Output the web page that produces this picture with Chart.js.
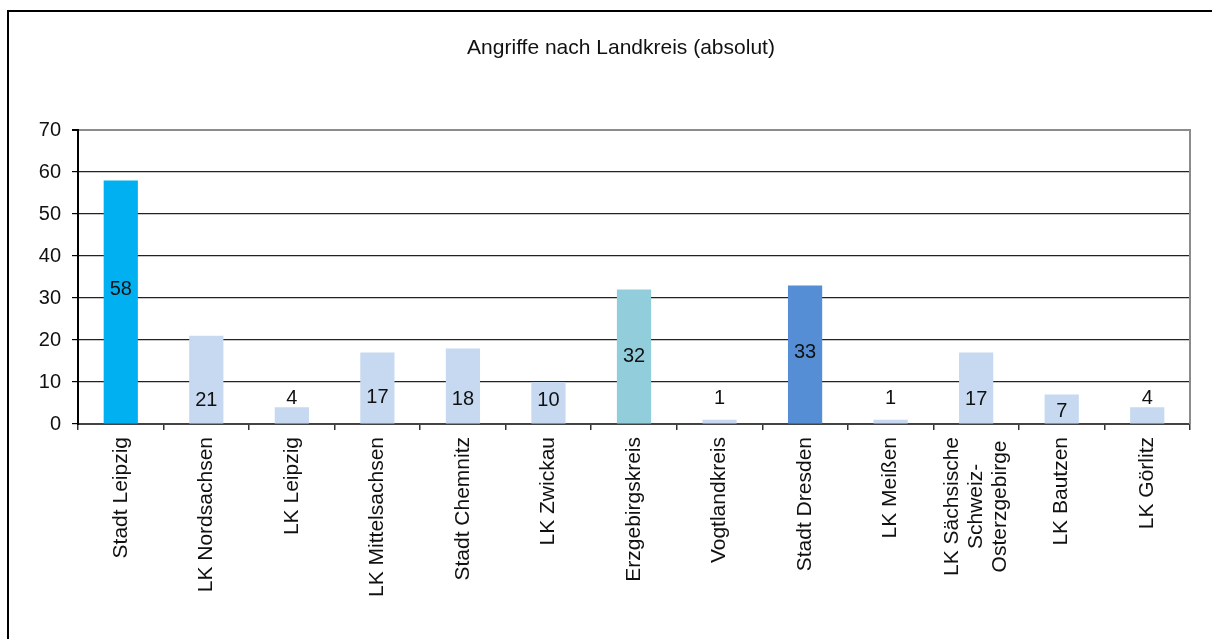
<!DOCTYPE html>
<html>
<head>
<meta charset="utf-8">
<script src="https://cdn.jsdelivr.net/npm/chart.js@4.4.1/dist/chart.umd.min.js"></script>
<style>
  html, body { margin: 0; padding: 0; background: #fff; overflow: hidden; }
  #wrap { position: relative; width: 1212px; height: 639px; overflow: hidden; }
  #frame { position: absolute; left: 7px; top: 10px; width: 1400px; height: 800px; border: 2px solid #000; box-sizing: border-box; }
  canvas { position: absolute; left: 0; top: 0; }
</style>
</head>
<body>
<div id="wrap">
  <div id="frame"></div>
  <canvas id="c" width="1212" height="639"></canvas>
</div>
<script>
const categories = [
  'Stadt Leipzig', 'LK Nordsachsen', 'LK Leipzig', 'LK Mittelsachsen', 'Stadt Chemnitz',
  'LK Zwickau', 'Erzgebirgskreis', 'Vogtlandkreis', 'Stadt Dresden', 'LK Meißen',
  ['LK Sächsische', 'Schweiz-', 'Osterzgebirge'], 'LK Bautzen', 'LK Görlitz'
];
const attacks = [58, 21, 4, 17, 18, 10, 32, 1, 33, 1, 17, 7, 4];
const yTicks = [0, 10, 20, 30, 40, 50, 60, 70];
const titleText = 'Angriffe nach Landkreis (absolut)';

const barColors = ['#00B0F0', '#C6D9F1', '#C6D9F1', '#C6D9F1', '#C6D9F1', '#C6D9F1',
  '#92CDDC', '#C6D9F1', '#558ED5', '#C6D9F1', '#C6D9F1', '#C6D9F1', '#C6D9F1'];
// vertical anchor (in axis units) where each value label is centred
const labelAnchor = [32.0, 5.7, 6.1, 6.2, 5.8, 5.6, 16.1, 6.1, 17.1, 6.1, 5.9, 2.9, 6.0];

const FONT = "'Liberation Sans', Arial, sans-serif";

const valueLabels = {
  id: 'valueLabels',
  afterDatasetsDraw(chart) {
    const ctx = chart.ctx;
    const meta = chart.getDatasetMeta(0);
    const ys = chart.scales.y;
    ctx.save();
    ctx.font = '20px ' + FONT;
    ctx.fillStyle = '#111';
    ctx.textAlign = 'center';
    ctx.textBaseline = 'middle';
    meta.data.forEach((bar, i) => {
      ctx.fillText(String(attacks[i]), bar.x, ys.getPixelForValue(labelAnchor[i]));
    });
    ctx.restore();
  }
};

// draws the title and the rotated category labels (lines centred on the tick)
const textLayer = {
  id: 'textLayer',
  afterDraw(chart) {
    const ctx = chart.ctx;
    const xs = chart.scales.x;
    const a = chart.chartArea;
    ctx.save();
    ctx.fillStyle = '#111';
    ctx.font = '21px ' + FONT;
    ctx.textAlign = 'center';
    ctx.textBaseline = 'middle';
    ctx.fillText(titleText, 621, 48);

    ctx.font = '21px ' + FONT;
    ctx.textBaseline = 'middle';
    ctx.textAlign = 'left';
    const lh = 24;
    const top = a.bottom + 13;
    categories.forEach((lab, i) => {
      const lines = Array.isArray(lab) ? lab : [lab];
      const widths = lines.map(l => ctx.measureText(l).width);
      const maxW = Math.max(...widths);
      const cx = xs.getPixelForTick(i);
      lines.forEach((line, j) => {
        const x = cx + (j - (lines.length - 1) / 2) * lh;
        const yEnd = top + (maxW - widths[j]) / 2;
        ctx.save();
        ctx.translate(x, yEnd);
        ctx.rotate(-Math.PI / 2);
        ctx.textAlign = 'right';
        ctx.fillText(line, 0, 0);
        ctx.restore();
      });
    });
    ctx.restore();
  }
};

const plotFrame = {
  id: 'plotFrame',
  afterDraw(chart) {
    const a = chart.chartArea;
    const ctx = chart.ctx;
    ctx.save();
    ctx.strokeStyle = '#8c8c8c';
    ctx.lineWidth = 2;
    ctx.beginPath();
    ctx.moveTo(a.left, a.top);
    ctx.lineTo(a.right, a.top);
    ctx.lineTo(a.right, a.bottom);
    ctx.stroke();
    ctx.strokeStyle = '#000';
    ctx.beginPath();
    ctx.moveTo(a.left, a.top - 1);
    ctx.lineTo(a.left, a.bottom + 1);
    ctx.stroke();
    ctx.restore();
  }
};

new Chart(document.getElementById('c'), {
  type: 'bar',
  data: {
    labels: categories,
    datasets: [{
      data: attacks,
      backgroundColor: barColors,
      borderWidth: 0,
      barPercentage: 0.4,
      categoryPercentage: 1.0
    }]
  },
  options: {
    responsive: false,
    animation: false,
    layout: { padding: { left: 0, right: 22, top: 130, bottom: 0 } },
    plugins: {
      legend: { display: false },
      tooltip: { enabled: false },
      title: { display: false }
    },
    scales: {
      x: {
        offset: true,
        grid: {
          offset: true,
          drawOnChartArea: false,
          drawTicks: true,
          tickLength: 6,
          color: '#333',
          lineWidth: 1.5
        },
        border: { display: true, color: '#444', width: 2 },
        ticks: { display: false, autoSkip: false },
        afterFit(scale) { scale.height = 215; }
      },
      y: {
        min: 0,
        max: 70,
        afterBuildTicks(scale) { scale.ticks = yTicks.map(v => ({ value: v })); },
        grid: {
          color: (c) => c.tick && c.tick.value === 70 ? '#8c8c8c' : '#222',
          lineWidth: (c) => c.tick && c.tick.value === 70 ? 2 : 1.2,
          tickLength: 6,
          tickColor: '#000'
        },
        border: { display: true, color: '#000', width: 2 },
        ticks: {
          padding: 11,
          color: '#111',
          font: { family: FONT, size: 20 }
        },
        afterFit(scale) { scale.width = 78; }
      }
    }
  },
  plugins: [valueLabels, textLayer, plotFrame]
});
</script>
</body>
</html>
